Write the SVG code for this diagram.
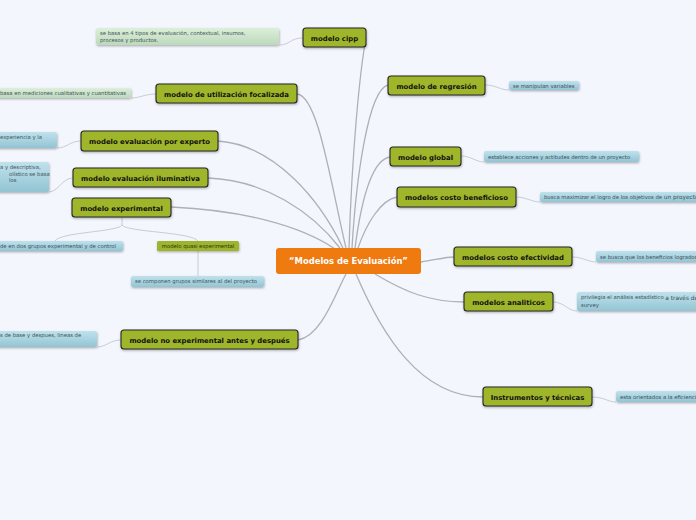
<svg xmlns="http://www.w3.org/2000/svg" width="696" height="520" viewBox="0 0 696 520">
<defs>
<linearGradient id="gb" x1="0" y1="0" x2="0" y2="1"><stop offset="0" stop-color="#bfe2ec"/><stop offset="1" stop-color="#93c4d3"/></linearGradient>
<linearGradient id="gg" x1="0" y1="0" x2="0" y2="1"><stop offset="0" stop-color="#dcefda"/><stop offset="1" stop-color="#bcd9bb"/></linearGradient>
<filter id="sh" x="-10%" y="-30%" width="120%" height="170%"><feDropShadow dx="0.5" dy="1.2" stdDeviation="0.8" flood-color="#000" flood-opacity="0.3"/></filter>
</defs>
<style>
.n rect{fill:#9fb62c;stroke:#262626;stroke-width:1.1;filter:url(#sh)}
.n text{font-family:"DejaVu Sans",Verdana,sans-serif;font-weight:bold;font-size:6.9px;fill:#111;text-anchor:middle}
.b rect{fill:url(#gb);filter:url(#sh)}
.g rect{fill:url(#gg);filter:url(#sh)}
.b text,.g text{font-family:"DejaVu Sans",Verdana,sans-serif;font-size:5.3px;fill:#3d4d58}
.c path{fill:none;stroke:#aeb0b8;stroke-width:1.3}
.s path{fill:none;stroke:#c4c6cc;stroke-width:0.9}
</style>
<rect width="696" height="520" fill="#f3f6fd"/>
<g class="c">
<path d="M349,248 C352,150 360,70 366,38"/>
<path d="M297,94 C318,96 330,180 346,248"/>
<path d="M218,141 C275,145 320,200 343,248"/>
<path d="M208,178 C265,180 312,212 340,248"/>
<path d="M171,207 C240,210 300,225 335,249"/>
<path d="M298,340 C322,336 336,292 346,274"/>
<path d="M388,85 C368,90 356,180 352,248"/>
<path d="M390,157 C370,160 360,210 355,248"/>
<path d="M397,197 C380,200 366,225 358,248"/>
<path d="M421,262 C435,260 445,257 454,257"/>
<path d="M375,274 C405,292 430,302 464,302"/>
<path d="M356,274 C382,335 420,397 483,397"/>
</g>
<g class="s">
<path d="M303,38 C290,38 290,45 279,45"/>
<path d="M156,94 C145,94 140,98 131,98"/>
<path d="M81,141 C70,141 67,148 57,148"/>
<path d="M73,178 C62,178 58,192 49,192"/>
<path d="M122,217 L122,225 C118,232 60,232 55,241"/>
<path d="M122,225 C126,232 192,232 198,241"/>
<path d="M198,251 L198,276"/>
<path d="M121,340 C110,340 106,347 97,347"/>
<path d="M485,85 C496,85 500,90 509,90"/>
<path d="M461,156 C471,156 476,162 484,162"/>
<path d="M516,197 C526,197 532,202 540,202"/>
<path d="M572,257 C583,257 588,262 596,262"/>
<path d="M553,302 C564,302 568,311 577,311"/>
<path d="M592,397 C604,397 608,402 616,402"/>
</g>
<g id="center">
<rect x="276" y="248" width="145" height="26" rx="3" fill="#ee7a10"/>
<text x="348.5" y="264" font-family="DejaVu Sans,Verdana,sans-serif" font-weight="bold" font-size="8.4" fill="#fff" text-anchor="middle">“Modelos de Evaluación”</text>
</g>
<g id="n-cipp" class="n"><rect x="303" y="28" width="63" height="19" rx="3"/><text x="334.5" y="40.5">modelo cipp</text></g>
<g id="t-cipp" class="g"><rect x="96" y="28" width="183" height="17" rx="2"/><text x="100" y="35">se basa en 4 tipos de evaluación, contextual, insumos,</text><text x="100" y="41.5">procesos y productos.</text></g>
<g id="n-util" class="n"><rect x="156" y="84" width="141" height="19" rx="3"/><text x="226.5" y="96.5">modelo de utilización focalizada</text></g>
<g id="t-util" class="g"><rect x="-10" y="88" width="141" height="10" rx="2"/><text x="0" y="94.8">basa en mediciones cualitativas y cuantitativas</text></g>
<g id="n-experto" class="n"><rect x="81" y="131" width="137" height="20" rx="3"/><text x="149.5" y="143.5">modelo evaluación por experto</text></g>
<g id="t-experto" class="b"><rect x="-10" y="132" width="67" height="16" rx="2"/><text x="0" y="139">experiencia y la</text></g>
<g id="n-ilum" class="n"><rect x="73" y="168" width="135" height="19" rx="3"/><text x="140.5" y="180.5">modelo evaluación iluminativa</text></g>
<g id="t-ilum" class="b"><rect x="-10" y="162" width="59" height="30" rx="2"/><text x="0" y="169">a y descriptiva,</text><text x="9" y="175.5">olístico se basa</text><text x="9" y="182">los</text></g>
<g id="n-exp" class="n"><rect x="72" y="198" width="99" height="19" rx="3"/><text x="121.5" y="210.5">modelo experimental</text></g>
<g id="t-exp1" class="b"><rect x="-10" y="241" width="133" height="10" rx="2"/><text x="0" y="248">de en dos grupos experimental y de control</text></g>
<g id="n-quasi"><rect x="157" y="241" width="82" height="10" rx="1.5" fill="#9db52e" filter="url(#sh)"/><text x="198" y="248" font-family="DejaVu Sans,Verdana,sans-serif" font-size="5.3" fill="#26300a" text-anchor="middle">modelo quasi experimental</text></g>
<g id="t-quasi" class="b"><rect x="131" y="276" width="133" height="11" rx="2"/><text x="135" y="283.3">se componen grupos similares al del proyecto</text></g>
<g id="n-noexp" class="n"><rect x="121" y="330" width="177" height="19" rx="3"/><text x="209.5" y="342.5">modelo no experimental antes y después</text></g>
<g id="t-noexp" class="b"><rect x="-10" y="331" width="107" height="16" rx="2"/><text x="0" y="337">s de base y despues, lineas de</text></g>
<g id="n-regr" class="n"><rect x="388" y="76" width="97" height="19" rx="3"/><text x="436.5" y="88.5">modelo de regresión</text></g>
<g id="t-regr" class="b"><rect x="509" y="81" width="70" height="9" rx="2"/><text x="513" y="87.5">se manipulan variables</text></g>
<g id="n-global" class="n"><rect x="390" y="147" width="71" height="19" rx="3"/><text x="425.5" y="159.5">modelo global</text></g>
<g id="t-global" class="b"><rect x="484" y="151" width="155" height="11" rx="2"/><text x="488" y="158.5">establece acciones y actitudes dentro de un proyecto</text></g>
<g id="n-benef" class="n"><rect x="397" y="187" width="119" height="20" rx="3"/><text x="456.5" y="199.5">modelos costo beneficioso</text></g>
<g id="t-benef" class="b"><rect x="540" y="192" width="166" height="10" rx="2"/><text x="544" y="199">busca maximizar el logro de los objetivos de <tspan font-size="5.8">un proyecto</tspan></text></g>
<g id="n-efect" class="n"><rect x="454" y="247" width="118" height="19" rx="3"/><text x="513" y="259.5">modelos costo efectividad</text></g>
<g id="t-efect" class="b"><rect x="596" y="251" width="110" height="11" rx="2"/><text x="600" y="258.5">se busca que los beneficios logrados</text></g>
<g id="n-anal" class="n"><rect x="464" y="292" width="89" height="19" rx="3"/><text x="508.5" y="304.5">modelos analiticos</text></g>
<g id="t-anal" class="b"><rect x="577" y="292" width="129" height="19" rx="2"/><text x="581" y="299">privilegia el análisis estadístico <tspan font-size="5.8" dy="1">a través de</tspan></text><text x="581" y="306.5">survey</text></g>
<g id="n-instr" class="n"><rect x="483" y="387" width="109" height="19" rx="3"/><text x="537.5" y="399.5">Instrumentos y técnicas</text></g>
<g id="t-instr" class="b"><rect x="616" y="391" width="90" height="11" rx="2"/><text x="620" y="398.5">esta orientados a la eficiencia</text></g>
</svg>
